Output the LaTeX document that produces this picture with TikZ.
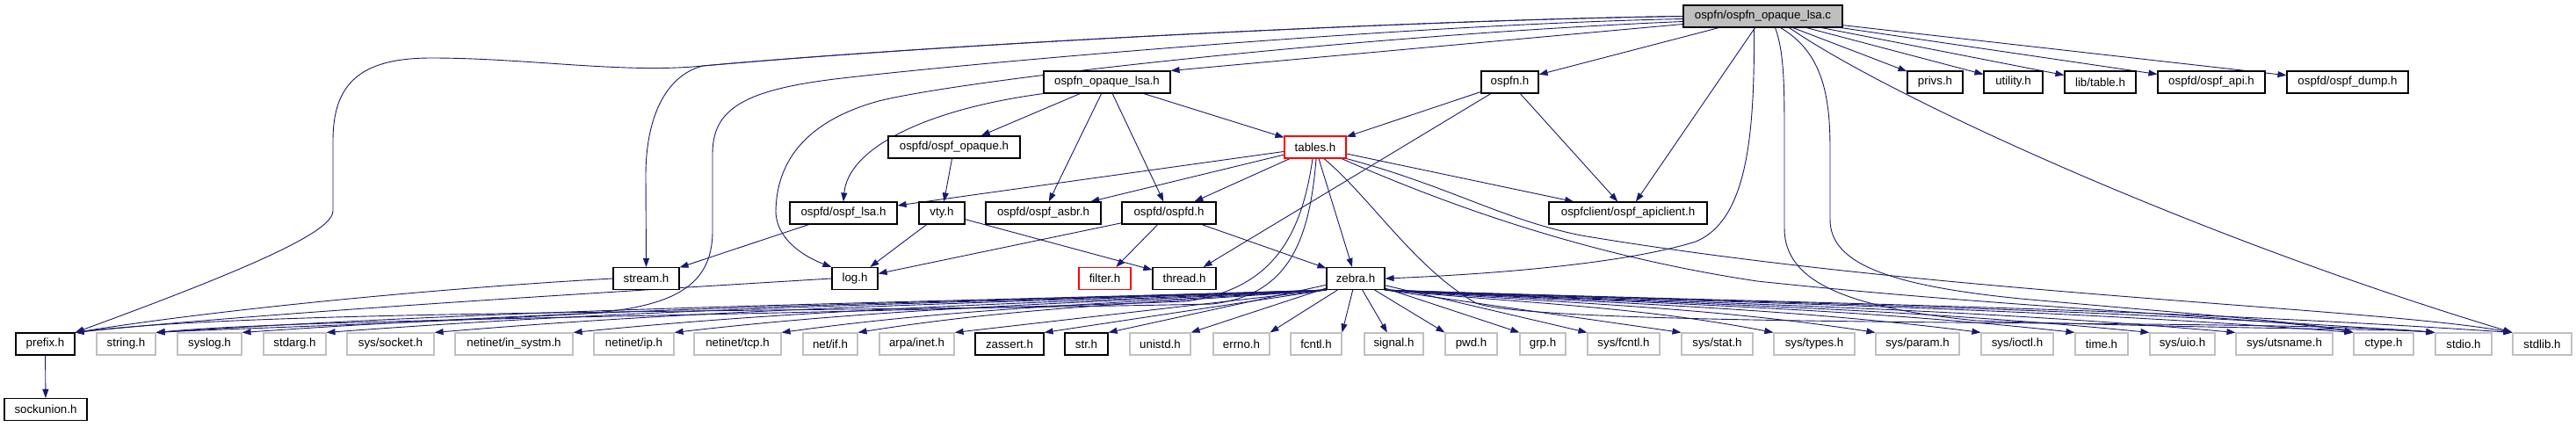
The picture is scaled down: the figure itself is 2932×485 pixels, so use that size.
\documentclass[tikz,border=0pt]{standalone}
\usepackage{fontspec}
\setmainfont{Liberation Sans}
\usetikzlibrary{arrows.meta}
\definecolor{eblue}{HTML}{191970}
\definecolor{gborder}{HTML}{C0C0C0}
\definecolor{rootfill}{HTML}{BFBFBF}
\pgfdeclarelayer{bg}
\pgfsetlayers{bg,main}
\begin{document}
\begin{tikzpicture}[x=1pt,y=-1pt,
  box/.style={draw=black, line width=1.1pt, fill=white, minimum height=25pt, inner sep=0pt, font=\fontsize{13.3}{14}\selectfont, text=black},
  sysbox/.style={box, draw=gborder},
  redbox/.style={box, draw=red},
  rootbox/.style={box, fill=rootfill},
  edge/.style={draw=eblue, line width=0.9pt, -{Triangle[length=10pt,width=7pt]}},
]
\useasboundingbox (0,0) rectangle (2932,485);

% row 0
\node[rootbox, minimum width=181pt] (root) at (2006.5,18.5) {ospfn/ospfn\_opaque\_lsa.c};
% row 1
\node[box, minimum width=144pt] (olsah) at (1260,93.5) {ospfn\_opaque\_lsa.h};
\node[box, minimum width=65pt] (ospfnh) at (1718.5,93.5) {ospfn.h};
\node[box, minimum width=63pt] (privs) at (2202.5,93.5) {privs.h};
\node[box, minimum width=67pt] (utility) at (2291.5,93.5) {utility.h};
\node[box, minimum width=81pt] (libtable) at (2390.5,93.5) {lib/table.h};
\node[box, minimum width=122pt] (api) at (2517,93.5) {ospfd/ospf\_api.h};
\node[box, minimum width=138pt] (dump) at (2672,93.5) {ospfd/ospf\_dump.h};
% row 2
\node[box, minimum width=150pt] (opaque) at (1086,167.5) {ospfd/ospf\_opaque.h};
\node[redbox, minimum width=70pt] (tables) at (1497,167.5) {tables.h};
% row 3
\node[box, minimum width=122pt] (lsa) at (960,242.5) {ospfd/ospf\_lsa.h};
\node[box, minimum width=52pt] (vty) at (1072,242.5) {vty.h};
\node[box, minimum width=131pt] (asbr) at (1187.5,242.5) {ospfd/ospf\_asbr.h};
\node[box, minimum width=107pt] (ospfd) at (1330.5,242.5) {ospfd/ospfd.h};
\node[box, minimum width=180pt] (apiclient) at (1853,242.5) {ospfclient/ospf\_apiclient.h};
% row 4
\node[box, minimum width=75pt] (stream) at (735.5,317) {stream.h};
\node[box, minimum width=52pt] (log) at (973,317) {log.h};
\node[redbox, minimum width=59pt] (filter) at (1257.5,317) {filter.h};
\node[box, minimum width=72pt] (thread) at (1348,317) {thread.h};
\node[box, minimum width=66pt] (zebra) at (1543,317) {zebra.h};
% row 5
\node[box, minimum width=67pt] (prefix) at (51.5,391.5) {prefix.h};
\node[sysbox, minimum width=67pt] (string) at (143.5,391.5) {string.h};
\node[sysbox, minimum width=73pt] (syslog) at (238.5,391.5) {syslog.h};
\node[sysbox, minimum width=71pt] (stdarg) at (335.5,391.5) {stdarg.h};
\node[sysbox, minimum width=99pt] (syssocket) at (444.5,391.5) {sys/socket.h};
\node[sysbox, minimum width=134pt] (insystm) at (585,391.5) {netinet/in\_systm.h};
\node[sysbox, minimum width=91pt] (ip) at (721.5,391.5) {netinet/ip.h};
\node[sysbox, minimum width=99pt] (tcp) at (839.5,391.5) {netinet/tcp.h};
\node[sysbox, minimum width=62pt] (netif) at (945,391.5) {net/if.h};
\node[sysbox, minimum width=85pt] (arpa) at (1043.5,391.5) {arpa/inet.h};
\node[box, minimum width=78pt] (zassert) at (1149,391.5) {zassert.h};
\node[box, minimum width=49pt] (str) at (1236.5,391.5) {str.h};
\node[sysbox, minimum width=69pt] (unistd) at (1320.5,391.5) {unistd.h};
\node[sysbox, minimum width=64pt] (errno) at (1413,391.5) {errno.h};
\node[sysbox, minimum width=58pt] (fcntl) at (1498,391.5) {fcntl.h};
\node[sysbox, minimum width=67pt] (signal) at (1586.5,391.5) {signal.h};
\node[sysbox, minimum width=59pt] (pwd) at (1674.5,391.5) {pwd.h};
\node[sysbox, minimum width=52pt] (grp) at (1756,391.5) {grp.h};
\node[sysbox, minimum width=82pt] (sysfcntl) at (1848,391.5) {sys/fcntl.h};
\node[sysbox, minimum width=81pt] (sysstat) at (1954.5,391.5) {sys/stat.h};
\node[sysbox, minimum width=92pt] (systypes) at (2065,391.5) {sys/types.h};
\node[sysbox, minimum width=95pt] (sysparam) at (2182.5,391.5) {sys/param.h};
\node[sysbox, minimum width=82pt] (sysioctl) at (2296,391.5) {sys/ioctl.h};
\node[sysbox, minimum width=60pt] (time) at (2392,391.5) {time.h};
\node[sysbox, minimum width=74pt] (sysuio) at (2484,391.5) {sys/uio.h};
\node[sysbox, minimum width=110pt] (utsname) at (2600,391.5) {sys/utsname.h};
\node[sysbox, minimum width=68pt] (ctype) at (2713,391.5) {ctype.h};
\node[sysbox, minimum width=64pt] (stdio) at (2804,391.5) {stdio.h};
\node[sysbox, minimum width=67pt] (stdlib) at (2893.5,391.5) {stdlib.h};
% row 6
\node[box, minimum width=94pt] (sockunion) at (52,466) {sockunion.h};

\begin{pgfonlayer}{bg}
\fill[white] (0,0) rectangle (2932,485);
% root edges
\draw[edge] (root.west) .. controls (1650,22) and (1100,48) .. (800,75) .. controls (710,84) and (600,66) .. (491,66) .. controls (410,66) and (379,95) .. (379,160) -- (379,240) .. controls (379,262) and (300,300) .. (prefix.north east);
\draw[edge] (root.west) .. controls (1650,22) and (1100,48) .. (800,75) .. controls (760,85) and (735,130) .. (735,200) -- (stream.north);
\draw[edge] ([yshift=-3pt]root.west) .. controls (1600,28) and (1100,72) .. (950,90) .. controls (845,103) and (811,125) .. (811,175) -- (811,263) .. controls (811,330) and (760,352) .. (650,358) .. controls (420,370) and (260,374) .. (string.north east);
\draw[edge] ([yshift=-6pt]root.west) .. controls (1550,40) and (1100,90) .. (1000,115) .. controls (910,140) and (884,190) .. (883,240) .. controls (883,272) and (915,292) .. (log.north west);
\draw[edge] ([yshift=-9pt]root.west) -- (olsah.north east);
\draw[edge] (root) -- (ospfnh);
\draw[edge] (root) -- (apiclient);
\draw[edge] (root) -- (privs);
\draw[edge] (root) -- (utility);
\draw[edge] (root) -- (libtable);
\draw[edge] (root) -- (api);
\draw[edge] (root) -- (dump);
\draw[edge] ([xshift=30pt]root.south) .. controls (2150,110) and (2500,270) .. (stdlib.north west);
\draw[edge] ([xshift=-10pt]root.south) .. controls (1997,150) and (1990,250) .. (1930,275) .. controls (1850,300) and (1700,312) .. (zebra.east);
\draw[edge] ([xshift=14pt]root.south) .. controls (2031,60) and (2031,100) .. (2031,160) -- (2031,260) .. controls (2031,320) and (2100,350) .. (2250,365) .. controls (2550,375) and (2720,374) .. (stdio.north west);
\draw[edge] ([xshift=20pt]root.south) .. controls (2075,60) and (2083,110) .. (2083,170) -- (2083,250) .. controls (2083,300) and (2150,325) .. (2300,340) .. controls (2500,358) and (2620,366) .. (ctype.north west);
% ospfn_opaque_lsa.h
\draw[edge] (olsah) -- (opaque);
\draw[edge] (olsah) -- (asbr);
\draw[edge] (olsah) -- (ospfd);
\draw[edge] (olsah) -- (tables);
\draw[edge] (olsah.south west) .. controls (1050,125) and (965,170) .. (lsa.north);
% ospfn.h
\draw[edge] (ospfnh) -- (tables);
\draw[edge] (ospfnh) -- (thread);
\draw[edge] (ospfnh) -- (apiclient);
% ospf_opaque.h
\draw[edge] (opaque) -- (vty);
% tables.h
\draw[edge] (tables) -- (lsa);
\draw[edge] (tables) -- (asbr);
\draw[edge] (tables) -- (ospfd);
\draw[edge] (tables) -- (apiclient);
\draw[edge] (tables) -- (zebra);
\draw[edge] ([xshift=-3pt]tables.south) .. controls (1480,280) and (1440,330) .. (1350,343) .. controls (900,360) and (350,362) .. (string.north east);
\draw[edge] ([xshift=1pt]tables.south) .. controls (1490,285) and (1460,336) .. (1380,346) .. controls (900,356) and (300,352) .. (prefix.north east);
\draw[edge] ([xshift=10pt]tables.south) .. controls (1560,225) and (1610,305) .. (1680,345) .. controls (1760,375) and (2600,362) .. (stdio.north west);
\draw[edge] ([xshift=30pt]tables.south) .. controls (1640,230) and (1800,290) .. (2000,320) .. controls (2300,352) and (2600,362) .. (ctype.north west);
\draw[edge] (tables.south east) .. controls (1650,212) and (1710,250) .. (1800,268) .. controls (2200,335) and (2700,350) .. (stdlib.north west);
% row 3 sources
\draw[edge] (lsa) -- (stream);
\draw[edge] (vty) -- (log);
\draw[edge] (vty) -- (thread);
\draw[edge] (ospfd) -- (log);
\draw[edge] (ospfd) -- (filter);
\draw[edge] (ospfd) -- (zebra);
% row 4 sources
\draw[edge] (stream.west) .. controls (500,328) and (250,352) .. (prefix.north east);
\draw[edge] (log.west) .. controls (700,332) and (300,356) .. (prefix.north east);
\draw[edge] (prefix) -- (sockunion);
% zebra.h to the left
\draw[edge] (zebra.south west) .. controls +(-467,15) and +(467,-30) .. (string.north east);
\draw[edge] (zebra.south west) .. controls +(-432,15) and +(432,-30) .. (syslog.north east);
\draw[edge] (zebra.south west) .. controls +(-399,15) and +(399,-30) .. (stdarg.north east);
\draw[edge] (zebra.south west) .. controls +(-356,15) and +(356,-30) .. (syssocket.north east);
\draw[edge] (zebra.south west) .. controls +(-300,15) and +(300,-30) .. (insystm.north east);
\draw[edge] (zebra.south west) .. controls +(-260,15) and +(260,-30) .. (ip.north east);
\draw[edge] (zebra.south west) .. controls +(-217,15) and +(217,-30) .. (tcp.north east);
\draw[edge] (zebra.south west) .. controls +(-187,15) and +(187,-30) .. (netif.north east);
\draw[edge] (zebra.south west) -- (arpa.north east);
\draw[edge] (zebra.south west) -- (zassert.north east);
\draw[edge] (zebra) -- (str.north east);
\draw[edge] (zebra) -- (unistd.north east);
\draw[edge] (zebra) -- (errno.north east);
\draw[edge] (zebra) -- (fcntl.north east);
\draw[edge] (zebra) -- (signal);
\draw[edge] (zebra) -- (pwd.north west);
\draw[edge] (zebra) -- (grp.north west);
\draw[edge] (zebra) -- (sysfcntl.north west);
\draw[edge] (zebra.south east) -- (sysstat.north west);
% zebra.h to the right
\draw[edge] (zebra.south east) .. controls +(155,15) and +(-155,-30) .. (systypes.north west);
\draw[edge] (zebra.south east) .. controls +(196,15) and +(-196,-30) .. (sysparam.north west);
\draw[edge] (zebra.south east) .. controls +(238,15) and +(-238,-30) .. (sysioctl.north west);
\draw[edge] (zebra.south east) .. controls +(275,15) and +(-275,-30) .. (time.north west);
\draw[edge] (zebra.south east) .. controls +(305,15) and +(-305,-30) .. (sysuio.north west);
\draw[edge] (zebra.south east) .. controls +(339,15) and +(-339,-30) .. (utsname.north west);
\draw[edge] (zebra.south east) .. controls +(386,15) and +(-386,-30) .. (ctype.north west);
\draw[edge] (zebra.south east) .. controls +(419,15) and +(-419,-30) .. (stdio.north west);
\draw[edge] (zebra.south east) .. controls +(449,15) and +(-449,-30) .. (stdlib.north west);
\end{pgfonlayer}
\end{tikzpicture}
\end{document}
